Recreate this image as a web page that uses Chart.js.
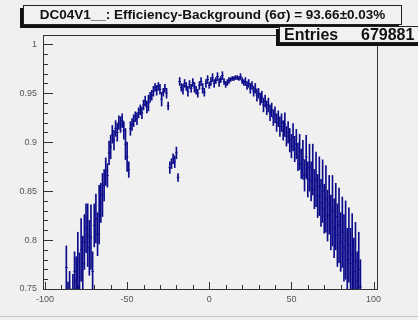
<!DOCTYPE html>
<html>
<head>
<meta charset="utf-8">
<script src="https://cdn.jsdelivr.net/npm/chart.js@4.4.1/dist/chart.umd.min.js"></script>
<style>
  body { margin: 0; background: #f0f0f0; }
  #wrap { position: relative; width: 418px; height: 320px; overflow: hidden; background: #f0f0f0; }
  #c { position: absolute; left: 0; top: 0; }
  .pave { position: absolute; background: #f1f1f1; border: 1px solid #222; box-shadow: -3px 3px 0 #111; font-family: "Liberation Sans", Arial, sans-serif; color: #111; }
  #title { left: 23px; top: 5px; width: 377px; height: 18px; line-height: 18px; font-size: 13.5px; font-weight: bold; text-align: center; }
  #stats { left: 279px; top: 26px; width: 150px; height: 15px; font-size: 16px; font-weight: bold; }
  #stats span { position: absolute; top: -2px; line-height: 19px; }
  #edge { position: absolute; left: 0; top: 316px; width: 418px; height: 1px; background: #c6c6c6; }
</style>
</head>
<body>
<div id="wrap">
  <canvas id="c" width="418" height="320"></canvas>
  <div id="title" class="pave">DC04V1__: Efficiency-Background (6σ) = 93.66±0.03%</div>
  <div id="stats" class="pave"><span style="left:4px">Entries</span><span style="left:81px">679881</span></div>
  <div id="edge"></div>
</div>
<script>
// efficiency per 1-unit bin, starting at binStart
const binStart = -87;
const effValues = [
  0.772, 0.742, 0.748, 0.735, 0.745, 0.768, 0.758, 0.778, 0.762, 0.790,
  0.776, 0.798, 0.812, 0.805, 0.792, 0.803, 0.768, 0.815, 0.822, 0.806,
  0.826, 0.838, 0.846, 0.856, 0.870, 0.866, 0.889, 0.895, 0.908, 0.902,
  0.914, 0.910, 0.920, 0.918, 0.922, 0.912, 0.898, 0.885, 0.872, 0.914,
  0.918, 0.922, 0.926, 0.924, 0.930, 0.933, 0.930, 0.938, 0.942, 0.936,
  0.940, 0.946, 0.948, 0.952, 0.956, 0.953, 0.957, 0.954, 0.944, 0.951,
  0.955, 0.950, 0.937, 0.874, 0.878, 0.883, 0.880, 0.889, 0.864, 0.962,
  0.956, 0.954, 0.960, 0.957, 0.952, 0.959, 0.955, 0.961, 0.956, 0.953,
  0.950, 0.958, 0.962, 0.955, 0.951, 0.960, 0.964, 0.958, 0.962, 0.966,
  0.960, 0.963, 0.967, 0.961, 0.964, 0.968, 0.962, 0.959, 0.961, 0.963,
  0.964, 0.965, 0.965, 0.966, 0.966, 0.965, 0.967, 0.963, 0.961, 0.962,
  0.958, 0.960, 0.955, 0.958, 0.952, 0.955, 0.948, 0.950, 0.944, 0.946,
  0.938, 0.942, 0.935, 0.938, 0.930, 0.933, 0.925, 0.928, 0.920, 0.924,
  0.916, 0.920, 0.912, 0.918, 0.906, 0.910, 0.902, 0.896, 0.905, 0.893,
  0.898, 0.885, 0.890, 0.878, 0.882, 0.866, 0.885, 0.862, 0.874, 0.860,
  0.872, 0.852, 0.862, 0.845, 0.855, 0.838, 0.850, 0.832, 0.842, 0.825,
  0.836, 0.818, 0.830, 0.812, 0.824, 0.805, 0.815, 0.798, 0.808, 0.792,
  0.800, 0.780, 0.795, 0.776, 0.785, 0.768, 0.778, 0.758, 0.770, 0.752
];
const effErrors = [
  0.022, 0.015, 0.020, 0.015, 0.020, 0.020, 0.025, 0.030, 0.025, 0.032,
  0.028, 0.028, 0.025, 0.032, 0.028, 0.033, 0.020, 0.022, 0.025, 0.022,
  0.030, 0.020, 0.022, 0.016, 0.014, 0.012, 0.012, 0.012, 0.009, 0.010,
  0.008, 0.009, 0.007, 0.008, 0.007, 0.009, 0.016, 0.015, 0.008, 0.007,
  0.006, 0.006, 0.005, 0.006, 0.005, 0.005, 0.006, 0.005, 0.005, 0.006,
  0.008, 0.005, 0.005, 0.005, 0.004, 0.005, 0.004, 0.005, 0.007, 0.004,
  0.004, 0.005, 0.004, 0.006, 0.005, 0.005, 0.006, 0.006, 0.004, 0.004,
  0.004, 0.005, 0.004, 0.004, 0.005, 0.004, 0.004, 0.004, 0.005, 0.004,
  0.004, 0.004, 0.004, 0.005, 0.004, 0.004, 0.004, 0.003, 0.004, 0.004,
  0.004, 0.003, 0.004, 0.004, 0.003, 0.004, 0.003, 0.003, 0.003, 0.003,
  0.002, 0.002, 0.002, 0.002, 0.002, 0.002, 0.003, 0.003, 0.003, 0.004,
  0.004, 0.004, 0.005, 0.004, 0.005, 0.005, 0.006, 0.005, 0.006, 0.006,
  0.007, 0.006, 0.007, 0.007, 0.008, 0.007, 0.008, 0.008, 0.009, 0.008,
  0.010, 0.009, 0.010, 0.012, 0.010, 0.011, 0.012, 0.012, 0.014, 0.013,
  0.015, 0.014, 0.018, 0.015, 0.020, 0.016, 0.022, 0.018, 0.024, 0.020,
  0.026, 0.020, 0.028, 0.022, 0.030, 0.024, 0.032, 0.025, 0.034, 0.026,
  0.030, 0.028, 0.036, 0.030, 0.034, 0.032, 0.038, 0.030, 0.036, 0.034,
  0.040, 0.032, 0.038, 0.036, 0.042, 0.034, 0.040, 0.030, 0.038, 0.028
];
const xTicks = [-100, -50, 0, 50, 100];
const yTicks = [0.75, 0.8, 0.85, 0.9, 0.95, 1];

const lineColor = '#0c0c8a';

const errBars = effValues.map((v, i) => ({ x: binStart + i, y: [v - effErrors[i], v + effErrors[i]] }));
const centres = effValues.map((v, i) => ({ x: binStart + i, y: v }));

Chart.defaults.font.family = '"Liberation Sans", Arial, sans-serif';

// ROOT-style frame with ticks pointing into the pad
const framePlugin = {
  id: 'frame',
  beforeDraw(chart) {
    const ctx = chart.ctx;
    ctx.save();
    ctx.fillStyle = '#f0f0f0';
    ctx.fillRect(0, 0, chart.width, chart.height);
    ctx.restore();
  },
  beforeDatasetsDraw(chart) {
    const { ctx, chartArea: a, scales } = chart;
    ctx.save();
    ctx.lineWidth = 1;
    ctx.strokeStyle = '#333';
    ctx.strokeRect(Math.round(a.left) + 0.5, Math.round(a.top) + 0.5,
      Math.round(a.right - a.left), Math.round(a.bottom - a.top));
    ctx.beginPath();
    for (let i = 75; i <= 100; i++) {
      const py = Math.round(scales.y.getPixelForValue(i / 100)) + 0.5;
      const len = i % 5 === 0 ? 10 : 5;
      ctx.moveTo(a.left, py);
      ctx.lineTo(a.left + len, py);
    }
    for (let i = -10; i <= 10; i++) {
      const px = Math.round(scales.x.getPixelForValue(i * 10)) + 0.5;
      const len = i % 5 === 0 ? 7 : 4;
      ctx.moveTo(px, a.bottom);
      ctx.lineTo(px, a.bottom - len);
    }
    ctx.stroke();
    ctx.restore();
  }
};

new Chart(document.getElementById('c'), {
  type: 'bar',
  data: {
    datasets: [{
      type: 'bar',
      data: errBars,
      backgroundColor: lineColor,
      borderWidth: 0,
      barThickness: 1,
      grouped: false
    }, {
      type: 'line',
      data: centres,
      showLine: false,
      pointStyle: 'line',
      pointRadius: 1.3,
      pointBorderWidth: 1,
      borderColor: lineColor,
      backgroundColor: lineColor
    }]
  },
  options: {
    responsive: false,
    animation: false,
    layout: { padding: { top: 35, right: 41, left: 0, bottom: 0 } },
    plugins: { legend: { display: false }, tooltip: { enabled: false } },
    scales: {
      x: {
        type: 'linear',
        min: -101.2,
        max: 102.1,
        offset: false,
        grid: { display: false, drawTicks: false, offset: false },
        border: { display: false },
        afterBuildTicks: s => { s.ticks = xTicks.map(v => ({ value: v })); },
        afterFit: s => { s.height = 31; },
        ticks: { color: '#555', font: { size: 9 }, padding: 5, maxRotation: 0, autoSkip: false,
          callback: v => String(v) }
      },
      y: {
        type: 'linear',
        min: 0.75,
        max: 1.0095,
        grid: { display: false, drawTicks: false },
        border: { display: false },
        afterBuildTicks: s => { s.ticks = yTicks.map(v => ({ value: v })); },
        afterFit: s => { s.width = 43; },
        ticks: { color: '#555', font: { size: 9 }, padding: 6,
          callback: v => String(+v.toFixed(2)) }
      }
    }
  },
  plugins: [framePlugin]
});
</script>
</body>
</html>
